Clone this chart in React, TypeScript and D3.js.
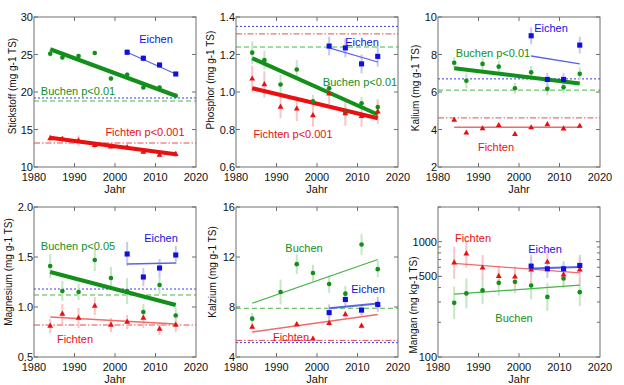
import React from "react";
import * as d3 from "d3";

// ---------- data ----------
const YEARS = [1984, 1987, 1991, 1995, 1999, 2003, 2007, 2011, 2015];
const YEARS_E = [2003, 2007, 2011, 2015];
const X_TICKS = [1980, 1990, 2000, 2010, 2020];

// Stickstoff
const nBuchen = [25.1, 24.6, 24.8, 25.2, 21.8, 22.3, 20.6, 20.6, 19.5];
const nBuchenErr = [0.4, 0.3, 0.3, 0.3, 0.3, 0.4, 0.3, 0.3, 0.3];
const nEichen = [25.3, 24.5, 23.6, 22.4];
const nEichenErr = [0.4, 0.4, 0.3, 0.3];
const nFichten = [13.8, 13.7, 13.5, 12.9, 12.7, 12.6, 12.0, 11.6, 11.7];
const nFichtenErr = [0.5, 0.4, 0.7, 0.4, 0.3, 0.3, 0.3, 0.3, 0.4];
const nTrend = { B: [25.7, 19.5], E: [25.3, 22.4], F: [13.9, 11.7] };
const nRef = { E: 19.2, B: 18.8, F: 13.2 };

// Phosphor
const pBuchen = [1.21, 1.17, 1.04, 1.12, 0.95, 1.02, 0.89, 0.94, 0.92];
const pBuchenErr = [0.06, 0.05, 0.05, 0.05, 0.035, 0.045, 0.035, 0.035, 0.04];
const pEichen = [1.245, 1.235, 1.15, 1.19];
const pEichenErr = [0.05, 0.05, 0.05, 0.055];
const pFichten = [1.07, 1.04, 0.92, 0.91, 0.875, 0.99, 0.885, 0.87, 0.895];
const pFichtenErr = [0.07, 0.07, 0.06, 0.065, 0.06, 0.055, 0.065, 0.055, 0.065];
const pTrend = { B: [1.18, 0.88], E: [1.235, 1.16], F: [1.02, 0.86] };
const pRef = { E: 1.35, B: 1.24, F: 1.31 };

// Kalium
const kBuchen = [7.56, 6.6, 7.5, 7.35, 6.2, 7.05, 6.17, 6.25, 6.97];
const kBuchenErr = [0.3, 0.4, 0.3, 0.3, 0.3, 0.35, 0.35, 0.3, 0.35];
const kEichen = [9.0, 6.67, 6.67, 8.5];
const kEichenErr = [0.45, 0.35, 0.35, 0.45];
const kFichten = [4.5, 3.82, 4.05, 4.22, 3.75, 4.1, 4.27, 4.04, 4.18];
const kFichtenErr = [0.1, 0.08, 0.08, 0.1, 0.08, 0.08, 0.1, 0.08, 0.1];
const kTrend = { B: [7.27, 6.45], E: [7.92, 7.5], F: [4.12, 4.12] };
const kRef = { E: 6.7, B: 6.1, F: 4.62 };

// Magnesium
const mgBuchen = [1.41, 1.16, 1.15, 1.47, 1.29, 1.16, 0.95, 1.22, 0.915];
const mgBuchenErr = [0.12, 0.1, 0.08, 0.11, 0.11, 0.13, 0.08, 0.09, 0.08];
const mgEichen = [1.53, 1.3, 1.39, 1.52];
const mgEichenErr = [0.12, 0.09, 0.09, 0.09];
const mgFichten = [0.81, 0.93, 0.89, 1.01, 0.82, 0.85, 0.89, 0.78, 0.82];
const mgFichtenErr = [0.07, 0.1, 0.1, 0.09, 0.07, 0.07, 0.1, 0.06, 0.07];
const mgTrend = { B: [1.35, 1.02], E: [1.43, 1.44], F: [0.9, 0.83] };
const mgRef = { E: 1.18, B: 1.12, F: 0.82 };

// Kalzium
const caBuchen = [7.07, null, 9.2, 11.43, 10.72, 9.84, 9.07, 13.0, 11.03];
const caBuchenErr = [0.45, 0, 1.0, 0.8, 0.66, 0.7, 0.6, 0.85, 0.66];
const caEichen = [7.55, 8.6, 7.75, 8.2];
const caEichenErr = [0.66, 0.66, 0.45, 0.6];
const caFichten = [6.4, null, null, 6.6, 5.45, 6.7, 7.4, 6.48, 8.2];
const caFichtenErr = [0.2, 0, 0, 0.2, 0.2, 0.2, 0.25, 0.2, 0.3];
const caTrend = { B: [8.3, 11.8], E: [7.9, 8.28], F: [6.0, 7.4] };
const caRef = { E: 5.15, B: 7.9, F: 5.33 };

// Mangan (log scale, errors as log10 half-widths)
const mnBuchen = [295, 356, 378, 440, 449, 417, 332, 480, 365];
const mnBuchenErrLog = [0.14, 0.13, 0.12, 0.11, 0.1, 0.12, 0.12, 0.08, 0.12];
const mnEichen = [614, 582, 582, 622];
const mnEichenErrLog = [0.08, 0.08, 0.065, 0.07];
const mnFichten = [657, 787, 594, 502, 496, 571, 665, 516, 571];
const mnFichtenErrLog = [0.14, 0.12, 0.11, 0.09, 0.09, 0.13, 0.1, 0.09, 0.13];
const mnTrend = { B: [351, 420], E: [585, 602], F: [649, 537] };

// ---------- styles ----------
const COL = { B: "#12901a", E: "#1010e0", F: "#e81010" };
const THIN = { B: "#45b545", E: "#5a64e6", F: "#f06a6a" };
const ERRC = { B: "#c6e6c6", E: "#c4c8f2", F: "#f8c6c6" };
const FONT = "'Liberation Sans', Arial, Helvetica, sans-serif";

type Kind = "B" | "E" | "F";
type Series = {
  kind: Kind;
  years: number[];
  values: (number | null)[];
  err: number[];
  logErr?: boolean;
  trend: number[];
  trendW: number;
};
type Label = { kind: Kind; text: string; dx: number; dy: number };
type PanelCfg = {
  x0: number;
  y0: number;
  domain: [number, number];
  log?: boolean;
  yTicks: number[];
  yTickFmt: (v: number) => string;
  title: string;
  titleDx: number;
  titleY: number;
  series: Series[];
  refs?: { E: number; B: number; F: number };
  labels: Label[];
};

const W = 162;
const H = 150;

const fmt0 = (v: number) => d3.format("d")(v);
const fmt1 = (v: number) => d3.format(".1f")(v);

const panels: PanelCfg[] = [
  {
    x0: 34, y0: 17, domain: [10, 30], yTicks: [10, 15, 20, 25, 30], yTickFmt: fmt0,
    title: "Stickstoff (mg g-1 TS)", titleDx: -22, titleY: 86,
    series: [
      { kind: "B", years: YEARS, values: nBuchen, err: nBuchenErr, trend: nTrend.B, trendW: 4 },
      { kind: "F", years: YEARS, values: nFichten, err: nFichtenErr, trend: nTrend.F, trendW: 4 },
      { kind: "E", years: YEARS_E, values: nEichen, err: nEichenErr, trend: nTrend.E, trendW: 1.3 },
    ],
    refs: nRef,
    labels: [
      { kind: "E", text: "Eichen", dx: 122, dy: 22 },
      { kind: "B", text: "Buchen p<0.01", dx: 44, dy: 74 },
      { kind: "F", text: "Fichten p<0.001", dx: 111, dy: 115 },
    ],
  },
  {
    x0: 236, y0: 17, domain: [0.6, 1.4], yTicks: [0.6, 0.8, 1.0, 1.2, 1.4], yTickFmt: fmt1,
    title: "Phosphor (mg g-1 TS)", titleDx: -26, titleY: 80,
    series: [
      { kind: "B", years: YEARS, values: pBuchen, err: pBuchenErr, trend: pTrend.B, trendW: 4 },
      { kind: "F", years: YEARS, values: pFichten, err: pFichtenErr, trend: pTrend.F, trendW: 4 },
      { kind: "E", years: YEARS_E, values: pEichen, err: pEichenErr, trend: pTrend.E, trendW: 1.3 },
    ],
    refs: pRef,
    labels: [
      { kind: "E", text: "Eichen", dx: 126, dy: 25 },
      { kind: "B", text: "Buchen p<0.01", dx: 124, dy: 65 },
      { kind: "F", text: "Fichten p<0.001", dx: 57, dy: 117 },
    ],
  },
  {
    x0: 438, y0: 17, domain: [2, 10], yTicks: [2, 4, 6, 8, 10], yTickFmt: fmt0,
    title: "Kalium (mg g-1 TS)", titleDx: -23, titleY: 88,
    series: [
      { kind: "B", years: YEARS, values: kBuchen, err: kBuchenErr, trend: kTrend.B, trendW: 4 },
      { kind: "F", years: YEARS, values: kFichten, err: kFichtenErr, trend: kTrend.F, trendW: 1.3 },
      { kind: "E", years: YEARS_E, values: kEichen, err: kEichenErr, trend: kTrend.E, trendW: 1.3 },
    ],
    refs: kRef,
    labels: [
      { kind: "E", text: "Eichen", dx: 113, dy: 11 },
      { kind: "B", text: "Buchen p<0.01", dx: 55, dy: 36 },
      { kind: "F", text: "Fichten", dx: 58, dy: 130 },
    ],
  },
  {
    x0: 34, y0: 207, domain: [0.5, 2.0], yTicks: [0.5, 1.0, 1.5, 2.0], yTickFmt: fmt1,
    title: "Magnesium (mg g-1 TS)", titleDx: -26, titleY: 272,
    series: [
      { kind: "B", years: YEARS, values: mgBuchen, err: mgBuchenErr, trend: mgTrend.B, trendW: 4 },
      { kind: "F", years: YEARS, values: mgFichten, err: mgFichtenErr, trend: mgTrend.F, trendW: 1.3 },
      { kind: "E", years: YEARS_E, values: mgEichen, err: mgEichenErr, trend: mgTrend.E, trendW: 1.3 },
    ],
    refs: mgRef,
    labels: [
      { kind: "E", text: "Eichen", dx: 127, dy: 31 },
      { kind: "B", text: "Buchen p<0.05", dx: 44, dy: 39 },
      { kind: "F", text: "Fichten", dx: 41, dy: 132 },
    ],
  },
  {
    x0: 236, y0: 207, domain: [4, 16], yTicks: [4, 8, 12, 16], yTickFmt: fmt0,
    title: "Kalzium (mg g-1 TS)", titleDx: -24, titleY: 272,
    series: [
      { kind: "B", years: YEARS, values: caBuchen, err: caBuchenErr, trend: caTrend.B, trendW: 1.3 },
      { kind: "F", years: YEARS, values: caFichten, err: caFichtenErr, trend: caTrend.F, trendW: 1.3 },
      { kind: "E", years: YEARS_E, values: caEichen, err: caEichenErr, trend: caTrend.E, trendW: 2 },
    ],
    refs: caRef,
    labels: [
      { kind: "B", text: "Buchen", dx: 68, dy: 41 },
      { kind: "E", text: "Eichen", dx: 132, dy: 82 },
      { kind: "F", text: "Fichten", dx: 55, dy: 130 },
    ],
  },
  {
    x0: 438, y0: 207, domain: [100, 2000], log: true, yTicks: [100, 500, 1000], yTickFmt: fmt0,
    title: "Mangan (mg kg-1 TS)", titleDx: -25, titleY: 305,
    series: [
      { kind: "B", years: YEARS, values: mnBuchen, err: mnBuchenErrLog, logErr: true, trend: mnTrend.B, trendW: 1.3 },
      { kind: "F", years: YEARS, values: mnFichten, err: mnFichtenErrLog, logErr: true, trend: mnTrend.F, trendW: 1.3 },
      { kind: "E", years: YEARS_E, values: mnEichen, err: mnEichenErrLog, logErr: true, trend: mnTrend.E, trendW: 2 },
    ],
    labels: [
      { kind: "F", text: "Fichten", dx: 35, dy: 31 },
      { kind: "E", text: "Eichen", dx: 107, dy: 42 },
      { kind: "B", text: "Buchen", dx: 76, dy: 111 },
    ],
  },
];

const symArea = { B: 17, E: 26, F: 15 };
const symType = { B: d3.symbolCircle, E: d3.symbolSquare, F: d3.symbolTriangle };

function Panel({ cfg }: { cfg: PanelCfg }) {
  const { x0, y0 } = cfg;
  const x = d3.scaleLinear().domain([1980, 2020]).range([x0, x0 + W]);
  const y = cfg.log
    ? d3.scaleLog().domain(cfg.domain).range([y0 + H, y0])
    : d3.scaleLinear().domain(cfg.domain).range([y0 + H, y0]);

  const xInner = X_TICKS.slice(1, -1);
  const yMajor = cfg.yTicks;
  const yMinor = cfg.log ? d3.range(200, 1000, 100).concat([2000]) : [];
  const TL = 4;

  const refDash = { E: "2,2", B: "5,3", F: "6,2,1.5,2" };
  const refColor = { E: "#3a3ae8", B: "#4ab44a", F: "#e84a4a" };

  const lineGen = d3.line<[number, number]>().x((d) => x(d[0])).y((d) => y(d[1]));

  return (
    <g>
      {/* reference lines */}
      {cfg.refs &&
        (["E", "B", "F"] as Kind[]).map((k) => (
          <line key={"ref" + k} x1={x0} x2={x0 + W} y1={y(cfg.refs![k])} y2={y(cfg.refs![k])}
            stroke={refColor[k]} strokeWidth={1} strokeDasharray={refDash[k]} />
        ))}
      {/* error bars */}
      {cfg.series.map((s) =>
        s.values.map((v, i) => {
          if (v == null || !s.err[i]) return null;
          const lo = s.logErr ? v / Math.pow(10, s.err[i]) : v - s.err[i];
          const hi = s.logErr ? v * Math.pow(10, s.err[i]) : v + s.err[i];
          return (
            <line key={"e" + s.kind + i} x1={x(s.years[i])} x2={x(s.years[i])} y1={y(lo)} y2={y(hi)}
              stroke={ERRC[s.kind]} strokeWidth={2} />
          );
        })
      )}
      {/* trend lines */}
      {cfg.series.map((s) => {
        const ys = s.years.filter((_, i) => s.values[i] != null);
        const pts: [number, number][] = [
          [ys[0], s.trend[0]],
          [ys[ys.length - 1], s.trend[1]],
        ];
        return (
          <path key={"t" + s.kind} d={lineGen(pts) || ""} fill="none"
            stroke={s.trendW >= 3 ? COL[s.kind] : THIN[s.kind]} strokeWidth={s.trendW} />
        );
      })}
      {/* points */}
      {cfg.series.map((s) =>
        s.values.map((v, i) =>
          v == null ? null : (
            <path key={"p" + s.kind + i}
              d={d3.symbol(symType[s.kind], symArea[s.kind])() || ""}
              transform={`translate(${x(s.years[i])},${y(v)})`} fill={COL[s.kind]} />
          )
        )
      )}
      {/* frame */}
      <rect x={x0} y={y0} width={W} height={H} fill="none" stroke="#6e6e6e" strokeWidth={1} />
      {/* x ticks */}
      {xInner.map((t) => (
        <g key={"xt" + t} stroke="#6e6e6e">
          <line x1={x(t)} x2={x(t)} y1={y0 + H} y2={y0 + H - TL} />
          <line x1={x(t)} x2={x(t)} y1={y0} y2={y0 + TL} />
        </g>
      ))}
      {X_TICKS.map((t) => (
        <text key={"xl" + t} x={x(t)} y={y0 + H + 10} textAnchor="middle" dominantBaseline="central"
          fontFamily={FONT} fontSize={11} fill="#111">{t}</text>
      ))}
      {/* y ticks */}
      {yMajor.map((t) => (
        <g key={"yt" + t} stroke="#6e6e6e">
          <line x1={x0} x2={x0 + TL} y1={y(t)} y2={y(t)} />
          <line x1={x0 + W} x2={x0 + W - TL} y1={y(t)} y2={y(t)} />
        </g>
      ))}
      {yMinor.map((t) => (
        <g key={"ym" + t} stroke="#6e6e6e">
          <line x1={x0} x2={x0 + 3} y1={y(t)} y2={y(t)} />
          <line x1={x0 + W} x2={x0 + W - 3} y1={y(t)} y2={y(t)} />
        </g>
      ))}
      {yMajor.map((t) => (
        <text key={"yl" + t} x={x0 - 1} y={y(t)} textAnchor="end" dominantBaseline="central"
          fontFamily={FONT} fontSize={11} fill="#111">{cfg.yTickFmt(t)}</text>
      ))}
      {/* axis titles */}
      <text x={x0 + W / 2} y={y0 + H + 22} textAnchor="middle" dominantBaseline="central"
        fontFamily={FONT} fontSize={11} fill="#111">Jahr</text>
      <text transform={`translate(${x0 + cfg.titleDx},${cfg.titleY}) rotate(-90)`} textAnchor="middle"
        dominantBaseline="central" fontFamily={FONT} fontSize={10} fill="#111">{cfg.title}</text>
      {/* series labels */}
      {cfg.labels.map((l) => (
        <text key={"lab" + l.text} x={x0 + l.dx} y={y0 + l.dy} textAnchor="middle" dominantBaseline="central"
          fontFamily={FONT} fontSize={11} fill={COL[l.kind]}>{l.text}</text>
      ))}
    </g>
  );
}

export default function App() {
  return (
    <div style={{ position: "absolute", left: 0, top: 0 }}>
      <svg width={624} height={385} viewBox="0 0 624 385" style={{ display: "block", background: "#fff" }}>
        <rect width={624} height={385} fill="#fff" />
        {panels.map((p, i) => (
          <Panel key={i} cfg={p} />
        ))}
      </svg>
    </div>
  );
}
